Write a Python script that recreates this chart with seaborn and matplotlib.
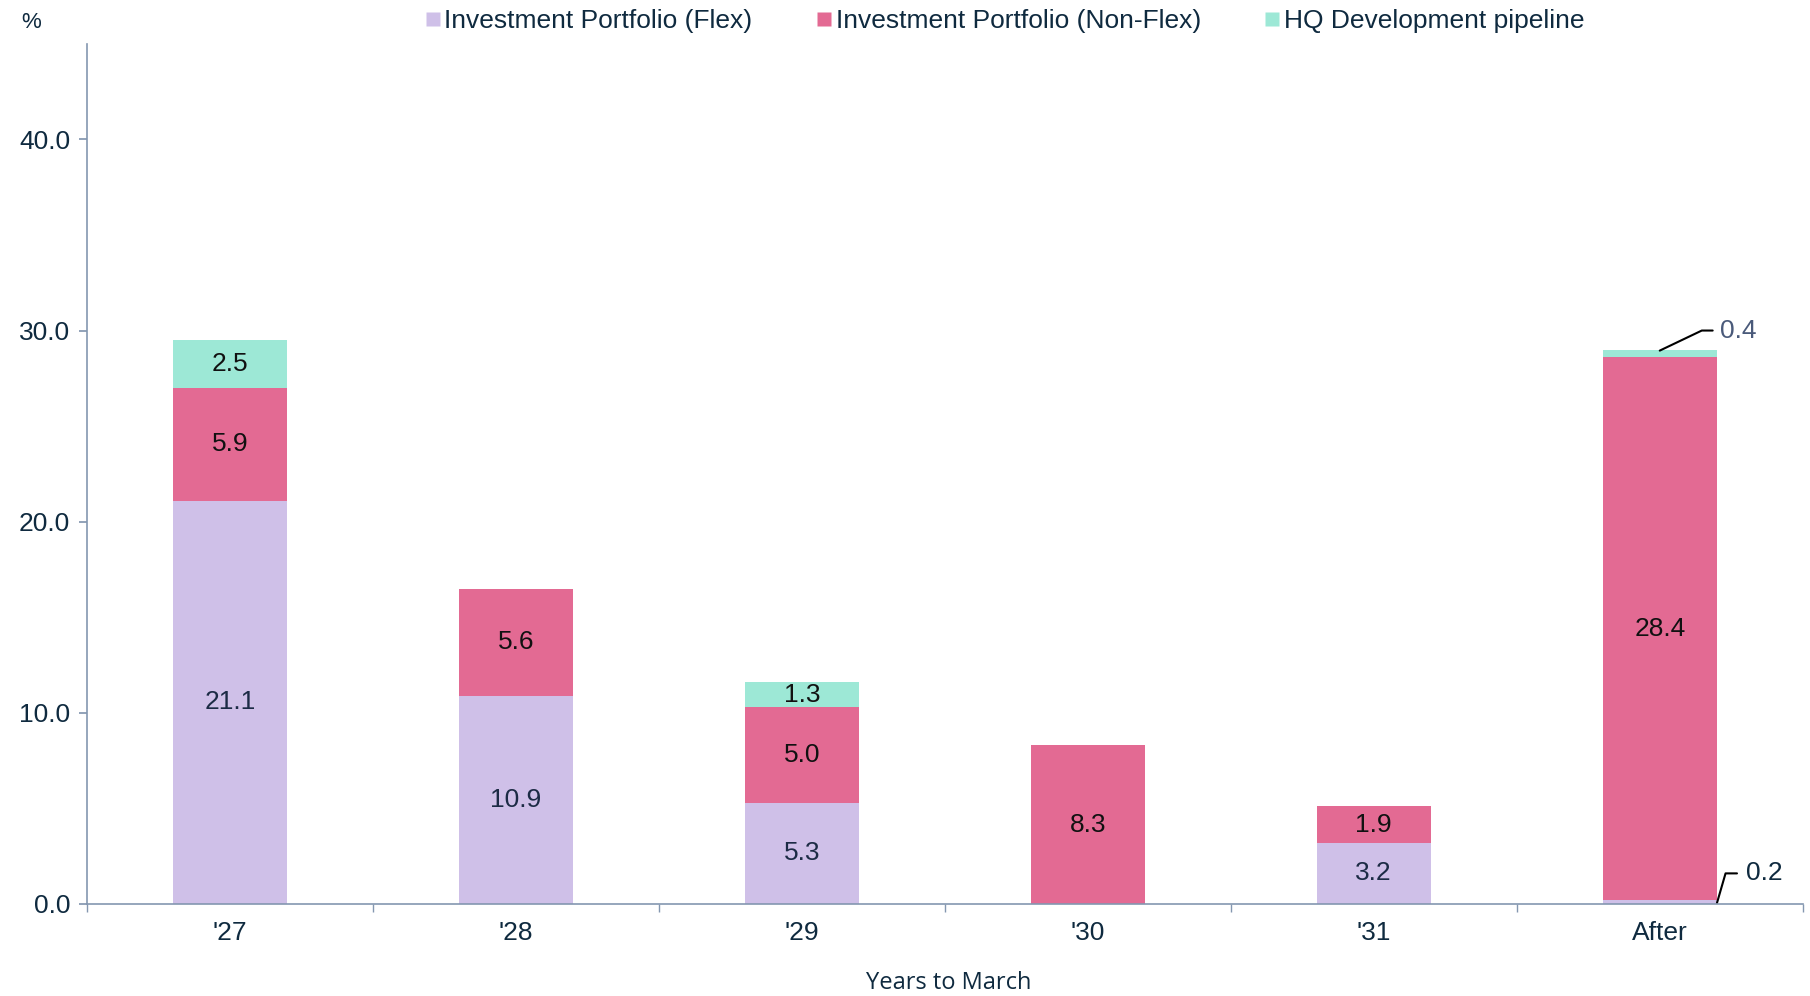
import numpy as np
import pandas as pd
import matplotlib
matplotlib.use("Agg")
import matplotlib.pyplot as plt
from matplotlib.lines import Line2D
import seaborn as sns

# ── Data ──────────────────────────────────────────────────────────────────────
years    = ["'27", "'28", "'29", "'30", "'31", "After"]
flex     = [21.1, 10.9, 5.3, 0.0, 3.2, 0.2]
non_flex = [5.9, 5.6, 5.0, 8.3, 1.9, 28.4]
hq_dev   = [2.5, 0.0, 1.3, 0.0, 0.0, 0.4]
series_names = ["Investment Portfolio (Flex)", "Investment Portfolio (Non-Flex)",
                "HQ Development pipeline"]
y_ticks = [0.0, 10.0, 20.0, 30.0, 40.0]

# ── Style ─────────────────────────────────────────────────────────────────────
COLORS = ["#CFC0E8", "#E36A93", "#9DE8D6"]
TEXT   = "#0F2A3F"
SPINE  = "#8497B0"

sns.set_theme(style="white")
plt.rcParams["font.family"] = ["Liberation Sans", "DejaVu Sans"]

fig = plt.figure(figsize=(18.1, 9.96), dpi=100)
ax = fig.add_axes([0.048, 0.0924, 0.948, 0.8636])

layers = [flex, non_flex, hq_dev]
bottom = np.zeros(len(years))
for vals, color, name in zip(layers, COLORS, series_names):
    df = pd.DataFrame({"year": years, "value": vals})
    sns.barplot(data=df, x="year", y="value", order=years, color=color,
                width=0.4, bottom=bottom, ax=ax, saturation=1,
                edgecolor="none", linewidth=0)
    vals = np.asarray(vals)
    for i, v in enumerate(vals):
        if v >= 1.0:
            ax.text(i, bottom[i] + v / 2, f"{v:.1f}", ha="center", va="center",
                    fontsize=19, color="#111111" if name != series_names[0] else "#1C2B45")
    bottom = bottom + vals

# small-value callouts on the "After" bar
ax.plot([5.0, 5.147, 5.185], [28.95, 30.0, 30.0], color="black", lw=1.5)
ax.text(5.21, 30.0, "0.4", ha="left", va="center", fontsize=19, color="#4A5A7A")
ax.plot([5.2, 5.23, 5.27], [0.05, 1.6, 1.6], color="black", lw=1.5)
ax.text(5.30, 1.6, "0.2", ha="left", va="center", fontsize=19, color=TEXT)

# ── Axes ──────────────────────────────────────────────────────────────────────
ax.set_xlim(-0.5, 5.5)
ax.set_ylim(0, 45)
ax.set_yticks(y_ticks)
ax.set_yticklabels([f"{t:.1f}" for t in y_ticks])
ax.set_xticks(range(len(years)))
ax.set_xticklabels(years)
ax.set_xticks(np.arange(-0.5, 5.6, 1.0), minor=True)
ax.tick_params(axis="x", which="major", length=0, pad=12, labelsize=19, labelcolor=TEXT)
ax.tick_params(axis="x", which="minor", length=6, direction="out", color=SPINE, bottom=True)
ax.tick_params(axis="y", length=6, direction="out", color=SPINE, left=True,
               labelsize=19, labelcolor=TEXT, pad=6)
ax.set_xlabel("")
ax.set_ylabel("")
for side in ["top", "right"]:
    ax.spines[side].set_visible(False)
for side in ["left", "bottom"]:
    ax.spines[side].set_color(SPINE)
    ax.spines[side].set_linewidth(1.2)
ax.grid(False)
if ax.get_legend() is not None:
    ax.get_legend().remove()

fig.text(0.524, 0.013, "Years to March", ha="center", va="center", fontsize=17,
         color=TEXT, family=["Open Sans", "DejaVu Sans"])
fig.text(0.012, 0.977, "%", ha="left", va="center", fontsize=16, color=TEXT)

handles = [Line2D([0], [0], marker="s", linestyle="none", markersize=10,
                  markerfacecolor=c, markeredgecolor="none") for c in COLORS]
fig.legend(handles, series_names, loc="center", bbox_to_anchor=(0.555, 0.979),
           ncol=3, frameon=False, fontsize=19, handlelength=0.6, handletextpad=0.15,
           columnspacing=2.4, labelcolor=TEXT)

fig.savefig("out.png", dpi=100)
